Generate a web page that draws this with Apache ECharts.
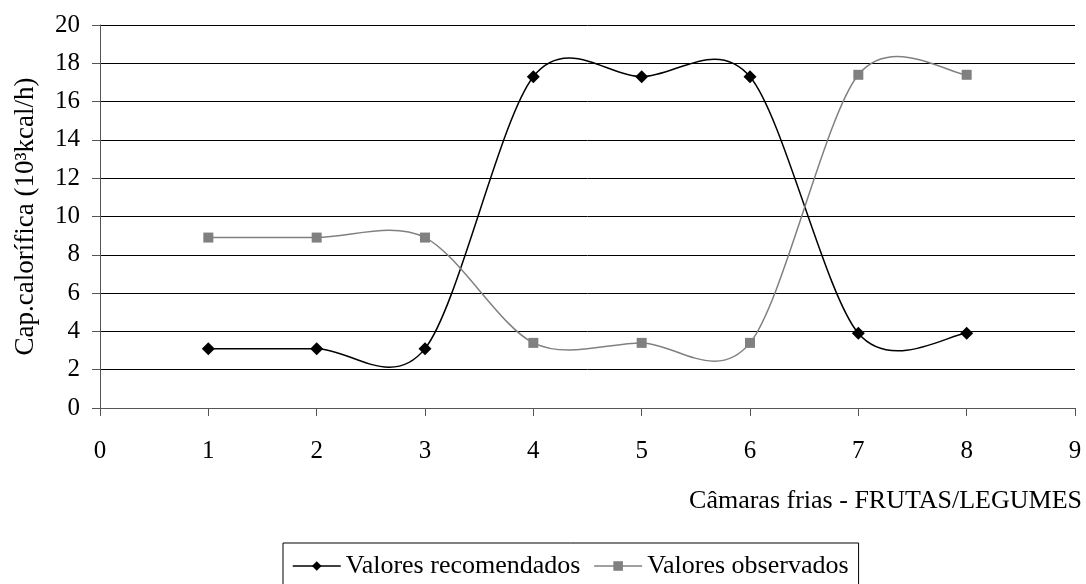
<!DOCTYPE html>
<html>
<head>
<meta charset="utf-8">
<script src="https://cdn.jsdelivr.net/npm/echarts@6/dist/echarts.min.js"></script>
<style>
  html, body { margin: 0; padding: 0; background: #fff; }
  #chart { width: 1086px; height: 584px; }
</style>
</head>
<body>
<div id="chart"></div>
<script>
// camaras (x) and the two series
var camaras = [1, 2, 3, 4, 5, 6, 7, 8];
var recomendados = [3.1, 3.1, 3.1, 17.3, 17.3, 17.3, 3.9, 3.9];
var observados = [8.9, 8.9, 8.9, 3.4, 3.4, 3.4, 17.4, 17.4];
var seriesNames = ["Valores recomendados", "Valores observados"];

function pairs(xs, ys) {
  return xs.map(function (x, i) { return [x, ys[i]]; });
}

// Excel-like smoothed line: one bezier per segment, catmull-rom control points
var tension = 1 / 6.5;
function curveItem(ys, color) {
  return function (params, api) {
    var i = params.dataIndex;
    if (i >= camaras.length - 1) return null;
    var pts = [];
    for (var k = i - 1; k <= i + 2; k++) {
      var j = Math.max(0, Math.min(camaras.length - 1, k));
      pts.push(api.coord([camaras[j], ys[j]]));
    }
    var p0 = pts[0], p1 = pts[1], p2 = pts[2], p3 = pts[3];
    return {
      type: "bezierCurve",
      shape: {
        x1: p1[0], y1: p1[1],
        cpx1: p1[0] + (p2[0] - p0[0]) * tension, cpy1: p1[1] + (p2[1] - p0[1]) * tension,
        cpx2: p2[0] - (p3[0] - p1[0]) * tension, cpy2: p2[1] - (p3[1] - p1[1]) * tension,
        x2: p2[0], y2: p2[1]
      },
      style: { stroke: color, lineWidth: 1.5, fill: null }
    };
  };
}

var chart = echarts.init(document.getElementById("chart"));
var font = "Liberation Serif";
var options = {
  animation: false,
  textStyle: { fontFamily: font, color: "#000" },
  grid: { left: 100, right: 11, top: 25, bottom: 176 },
  xAxis: {
    type: "value",
    min: 0,
    max: 9,
    interval: 1,
    name: "Câmaras frias - FRUTAS/LEGUMES",
    nameLocation: "end",
    nameGap: 7,
    nameTextStyle: {
      fontFamily: font, fontSize: 26, color: "#000",
      align: "right", verticalAlign: "top", padding: [80, 0, 0, 0]
    },
    axisLine: { lineStyle: { color: "#555", width: 1 } },
    axisTick: { show: true, inside: false, length: 8, lineStyle: { color: "#555" } },
    axisLabel: { fontFamily: font, fontSize: 25, color: "#000", margin: 31 },
    splitLine: { show: false }
  },
  yAxis: {
    type: "value",
    min: 0,
    max: 20,
    interval: 2,
    name: "Cap.calorífica (10³kcal/h)",
    nameLocation: "middle",
    nameGap: 61,
    nameTextStyle: { fontFamily: font, fontSize: 27, color: "#000" },
    axisLine: { show: true, lineStyle: { color: "#555", width: 1 } },
    axisTick: { show: true, inside: false, length: 8, lineStyle: { color: "#555" } },
    axisLabel: { fontFamily: font, fontSize: 25, color: "#000", margin: 20 },
    splitLine: { show: true, lineStyle: { color: "#000", width: 1 } }
  },
  legend: {
    top: 543,
    left: 283,
    itemWidth: 48,
    itemHeight: 12,
    itemGap: 13,
    padding: [10, 10, 10, 9],
    borderColor: "#000",
    borderWidth: 1,
    lineStyle: { opacity: 1, width: 1.5 },
    textStyle: { fontFamily: font, fontSize: 26, color: "#000" },
    data: seriesNames
  },
  series: [
    {
      name: "curva1",
      type: "custom",
      data: pairs(camaras, recomendados),
      renderItem: curveItem(recomendados, "#000"),
      z: 2
    },
    {
      name: "curva2",
      type: "custom",
      data: pairs(camaras, observados),
      renderItem: curveItem(observados, "#808080"),
      z: 2
    },
    {
      name: seriesNames[0],
      type: "line",
      data: pairs(camaras, recomendados),
      symbol: "diamond",
      symbolSize: 13,
      itemStyle: { color: "#000" },
      lineStyle: { color: "#000", width: 1.5, opacity: 0 },
      z: 3
    },
    {
      name: seriesNames[1],
      type: "line",
      data: pairs(camaras, observados),
      symbol: "rect",
      symbolSize: 10,
      itemStyle: { color: "#808080" },
      lineStyle: { color: "#808080", width: 1.5, opacity: 0 },
      z: 3
    }
  ]
};
chart.setOption(options, true);
</script>
</body>
</html>
